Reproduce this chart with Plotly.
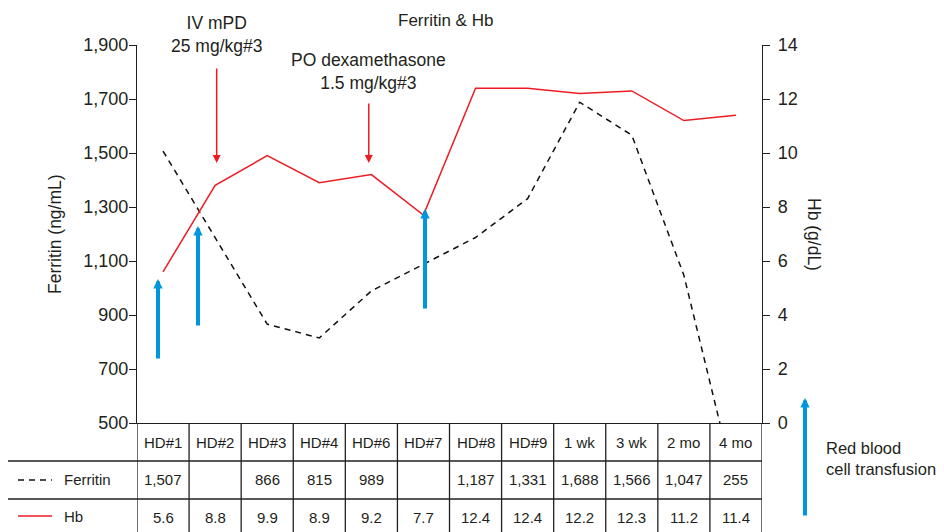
import plotly.graph_objects as go

categories = ["HD#1", "HD#2", "HD#3", "HD#4", "HD#6", "HD#7", "HD#8", "HD#9", "1 wk", "3 wk", "2 mo", "4 mo"]
ferritin = [1507, None, 866, 815, 989, None, 1187, 1331, 1688, 1566, 1047, 255]
hb = [5.6, 8.8, 9.9, 8.9, 9.2, 7.7, 12.4, 12.4, 12.2, 12.3, 11.2, 11.4]
ferritin_ticks = [500, 700, 900, 1100, 1300, 1500, 1700, 1900]
hb_ticks = [0, 2, 4, 6, 8, 10, 12, 14]

FONT = "Arial, Liberation Sans, Helvetica, sans-serif"
INK = "#231f20"
RED = "#ed1c24"
BLUE = "#0096db"

OFF = 8  # page body margin
PAGE_W, PAGE_H = 944, 532
W, H = PAGE_W - OFF, PAGE_H - OFF
# plot area in page pixels: x 137..762, y 45..423
PL, PR, PT, PB = 137, 762, 45, 423
L = PL - OFF
T = PT - OFF
R = W - (PR - OFF)
B = H - (PB - OFF)
PH = PB - PT
PW = PR - PL


def py(ypix):
    """page pixel y (from top) -> paper y"""
    return (PB - ypix) / PH


def px(xpix):
    """page pixel x -> paper x"""
    return (xpix - PL) / PW


fig = go.Figure()
fig.add_trace(go.Scatter(
    x=categories, y=ferritin, mode="lines", name="Ferritin",
    connectgaps=True, line=dict(color="#111111", width=1.5, dash="6px,5px"),
    yaxis="y", showlegend=False, hoverinfo="skip"))
fig.add_trace(go.Scatter(
    x=categories, y=hb, mode="lines", name="Hb",
    line=dict(color=RED, width=1.5), yaxis="y2", showlegend=False, hoverinfo="skip"))

shapes = []
ann = []
n = len(categories)
bottom = py(PAGE_H + 2)
# table vertical lines
for i in range(n + 1):
    shapes.append(dict(type="line", xref="x", yref="paper", x0=i - 0.5, x1=i - 0.5,
                       y0=0, y1=bottom, line=dict(color=INK, width=1.3)))
# horizontal lines
for yp in (461, 499):
    shapes.append(dict(type="line", xref="paper", yref="paper", x0=px(7), x1=1,
                       y0=py(yp), y1=py(yp), line=dict(color=INK, width=1.3)))
shapes.append(dict(type="line", xref="paper", yref="paper", x0=px(7), x1=px(7),
                   y0=py(461), y1=bottom, line=dict(color=INK, width=1.3)))
# legend glyphs
shapes.append(dict(type="line", xref="paper", yref="paper", x0=px(18), x1=px(52),
                   y0=py(480), y1=py(480), line=dict(color="#111111", width=1.5, dash="6px,5px")))
shapes.append(dict(type="line", xref="paper", yref="paper", x0=px(18), x1=px(52),
                   y0=py(516), y1=py(516), line=dict(color=RED, width=1.5)))

tfont = dict(family=FONT, size=15, color=INK)
for i, c in enumerate(categories):
    ann.append(dict(x=c, y=py(442), xref="x", yref="paper", text=c, showarrow=False,
                    font=tfont, yanchor="middle"))
    ann.append(dict(x=c, y=py(480), xref="x", yref="paper",
                    text=(f"{ferritin[i]:,}" if ferritin[i] is not None else ""),
                    showarrow=False, font=tfont, yanchor="middle"))
    ann.append(dict(x=c, y=py(517), xref="x", yref="paper", text=f"{hb[i]:.1f}",
                    showarrow=False, font=tfont, yanchor="middle"))
ann.append(dict(x=px(62), y=py(480), xref="paper", yref="paper", text="Ferritin",
                showarrow=False, font=tfont, xanchor="left", yanchor="middle"))
ann.append(dict(x=px(62), y=py(516), xref="paper", yref="paper", text="Hb",
                showarrow=False, font=tfont, xanchor="left", yanchor="middle"))

afont = dict(family=FONT, size=17.5, color=INK)
# axis titles
ann.append(dict(x=px(55), y=0.5, xref="paper", yref="paper", text="Ferritin (ng/mL)",
                textangle=-90, showarrow=False, font=afont, xanchor="center",
                yanchor="middle"))
ann.append(dict(x=px(814), y=0.5, xref="paper", yref="paper", text="Hb (g/dL)",
                textangle=90, showarrow=False, font=afont, xanchor="center",
                yanchor="middle"))
# treatment notes
ann.append(dict(x=1.03, y=py(35), xref="x", yref="paper", text="IV mPD<br>25 mg/kg#3",
                showarrow=False, font=afont, yanchor="middle"))
ann.append(dict(x=3.95, y=py(72), xref="x", yref="paper",
                text="PO dexamethasone<br>1.5 mg/kg#3", showarrow=False, font=afont,
                yanchor="middle"))
ann.append(dict(x=px(824), y=py(458), xref="paper", yref="paper",
                text="Red blood<br>cell transfusion", showarrow=False,
                font=dict(family=FONT, size=16.5, color=INK),
                xanchor="left", yanchor="middle", align="left"))

# red arrows (drug administration)
for xv, tip, tail in ((1.03, 163, 67), (3.95, 163, 102)):
    ann.append(dict(x=xv, y=py(tip), xref="x", yref="paper", text="", showarrow=True,
                    ax=0, ay=tail - tip, arrowhead=2, arrowsize=1.07, arrowwidth=1.5,
                    arrowcolor=RED, standoff=0, startstandoff=0))
# blue arrows (transfusion)
for xv, tip, tail in ((-0.097, 279, 360), (0.671, 226, 327), (5.03, 209, 310)):
    ann.append(dict(x=xv, y=py(tip), xref="x", yref="paper", text="", showarrow=True,
                    ax=0, ay=tail - tip, arrowhead=2, arrowsize=0.47, arrowwidth=4,
                    arrowcolor=BLUE, standoff=0, startstandoff=0))
ann.append(dict(x=px(805), y=py(398), xref="paper", yref="paper", text="", showarrow=True,
                ax=0, ay=517 - 398, arrowhead=2, arrowsize=0.47, arrowwidth=4,
                arrowcolor=BLUE, standoff=0, startstandoff=0))

fig.update_layout(
    width=W, height=H, autosize=False,
    margin=dict(l=L, r=R, t=T, b=B, pad=0),
    paper_bgcolor="white", plot_bgcolor="white",
    font=dict(family=FONT, color=INK),
    title=dict(text="Ferritin & Hb", x=px(398), xanchor="left", xref="paper",
               y=1 - (20 - OFF) / H, yanchor="middle", yref="container",
               font=dict(family=FONT, size=17, color=INK)),
    xaxis=dict(type="category", categoryorder="array", categoryarray=categories,
               range=[-0.5, n - 0.5], showticklabels=False, ticks="", showgrid=False,
               zeroline=False, showline=True, linecolor=INK, linewidth=1.3),
    yaxis=dict(range=[500, 1900], tickvals=ferritin_ticks, tickformat=",", ticks="outside",
               ticklen=7, tickwidth=1.3, tickcolor=INK, showgrid=False, zeroline=False,
               showline=True, linecolor=INK, linewidth=1.3, ticklabelstandoff=-3,
               tickfont=dict(family=FONT, size=18, color=INK)),
    yaxis2=dict(range=[0, 14], tickvals=hb_ticks, overlaying="y", side="right",
                ticks="outside", ticklen=7, tickwidth=1.3, tickcolor=INK, showgrid=False,
                zeroline=False, showline=True, linecolor=INK, linewidth=1.3,
                ticklabelstandoff=4,
                tickfont=dict(family=FONT, size=18, color=INK)),
    shapes=shapes, annotations=ann, showlegend=False,
)

fig.write_html("out.html")
